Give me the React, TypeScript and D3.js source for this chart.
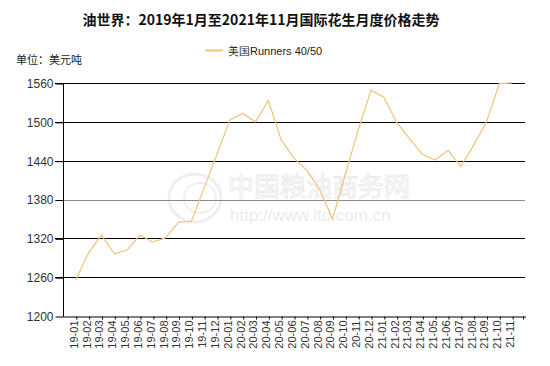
import { useEffect, useRef } from 'react';
import * as d3 from 'd3';

const months = [
  '19-01', '19-02', '19-03', '19-04', '19-05', '19-06', '19-07', '19-08', '19-09', '19-10', '19-11', '19-12',
  '20-01', '20-02', '20-03', '20-04', '20-05', '20-06', '20-07', '20-08', '20-09', '20-10', '20-11', '20-12',
  '21-01', '21-02', '21-03', '21-04', '21-05', '21-06', '21-07', '21-08', '21-09', '21-10', '21-11',
];
const prices = [
  1256, 1298, 1325, 1296, 1302, 1325, 1314, 1321, 1345, 1346, 1398, 1450,
  1503, 1513, 1500, 1533, 1472, 1444, 1425, 1395, 1350, 1419, 1487, 1549,
  1538, 1499, 1474, 1450, 1441, 1456, 1431, 1464, 1500, 1559, 1560,
];
const yTicks = [1200, 1260, 1320, 1380, 1440, 1500, 1560];
const seriesName = '美国Runners 40/50';
const title = '油世界：2019年1月至2021年11月国际花生月度价格走势';
const unitLabel = '单位：美元吨';

export default function App() {
  const svgRef = useRef(null);

  useEffect(() => {
    const svg = d3.select(svgRef.current);
    const width = 550;
    const height = 366;
    const margin = { top: 83, right: 25, bottom: 50, left: 63 };
    const lineColor = '#efc57a';
    const font = '"Liberation Sans", Arial, sans-serif';

    svg.attr('width', width).attr('height', height).attr('viewBox', `0 0 ${width} ${height}`);
    svg.selectAll('*').remove();

    const x = d3
      .scalePoint()
      .domain(months)
      .range([margin.left, width - margin.right])
      .padding(1);
    const y = d3
      .scaleLinear()
      .domain([1200, 1560])
      .range([height - margin.bottom, margin.top]);

    // watermark
    const wm = svg.append('g').attr('fill', 'none').attr('stroke', '#efefef');
    wm.append('ellipse').attr('cx', 195).attr('cy', 198).attr('rx', 26).attr('ry', 24).attr('stroke-width', 3);
    wm.append('ellipse').attr('cx', 200).attr('cy', 198).attr('rx', 16).attr('ry', 15).attr('stroke-width', 2);
    svg
      .append('text')
      .attr('x', 228)
      .attr('y', 196)
      .attr('font-family', '"Noto Sans CJK SC", sans-serif')
      .attr('font-size', 26)
      .attr('fill', 'none')
      .attr('stroke', '#e8e8e8')
      .attr('stroke-width', 0.8)
      .text('中国粮油商务网');
    svg
      .append('text')
      .attr('x', 230)
      .attr('y', 221)
      .attr('font-family', font)
      .attr('font-size', 17)
      .attr('fill', '#ececec')
      .text('http://www.lto.com.cn');

    // grid
    svg
      .append('g')
      .selectAll('line')
      .data(yTicks.slice(1))
      .join('line')
      .attr('x1', margin.left - 8)
      .attr('x2', width - margin.right)
      .attr('y1', (d) => Math.round(y(d)) + 0.5)
      .attr('y2', (d) => Math.round(y(d)) + 0.5)
      .attr('stroke', (d) => (d === 1380 ? '#8a8a8a' : '#000'));

    // y axis
    const yAxis = svg
      .append('g')
      .attr('transform', `translate(${margin.left + 0.5},0.5)`)
      .call(d3.axisLeft(y).tickValues(yTicks).tickFormat(d3.format('d')).tickSize(8).tickPadding(2));
    yAxis.select('.domain').remove();
    yAxis.selectAll('.tick line').attr('stroke', '#000');
    yAxis.selectAll('.tick text').attr('font-family', font).attr('font-size', 12).attr('fill', '#333');
    svg
      .append('line')
      .attr('x1', margin.left + 0.5)
      .attr('x2', margin.left + 0.5)
      .attr('y1', margin.top)
      .attr('y2', height - margin.bottom + 1)
      .attr('stroke', '#000');

    // x axis
    const xAxis = svg
      .append('g')
      .attr('transform', `translate(0.5,${Math.round(y(1200)) + 0.5})`)
      .call(d3.axisBottom(x).tickSize(3).tickSizeOuter(0));
    xAxis.select('.domain').attr('stroke', '#000');
    xAxis.selectAll('.tick line').attr('stroke', '#000');
    xAxis
      .selectAll('.tick text')
      .attr('font-family', font)
      .attr('font-size', 11)
      .attr('fill', '#333')
      .attr('text-anchor', 'end')
      .attr('transform', 'rotate(-90)')
      .attr('x', -4)
      .attr('y', -3)
      .attr('dy', '0.35em');
    xAxis
      .append('line')
      .attr('x1', width - margin.right - 2)
      .attr('x2', width - margin.right - 2)
      .attr('y1', 0)
      .attr('y2', 3)
      .attr('stroke', '#000');

    // series
    const line = d3
      .line()
      .x((d, i) => x(months[i]))
      .y((d) => y(d));
    svg
      .append('path')
      .datum(prices)
      .attr('fill', 'none')
      .attr('stroke', lineColor)
      .attr('stroke-width', 1.2)
      .attr('d', line);

    // title, unit, legend
    svg
      .append('text')
      .attr('x', 261)
      .attr('y', 25)
      .attr('text-anchor', 'middle')
      .attr('font-family', '"Noto Sans CJK SC", sans-serif')
      .attr('font-weight', 'bold')
      .attr('font-size', 14)
      .attr('fill', '#111')
      .text(title);
    svg
      .append('text')
      .attr('x', 16)
      .attr('y', 64)
      .attr('font-family', '"Noto Sans CJK SC", sans-serif')
      .attr('font-size', 11)
      .attr('fill', '#222')
      .text(unitLabel);
    svg
      .append('line')
      .attr('x1', 205)
      .attr('x2', 223)
      .attr('y1', 50.5)
      .attr('y2', 50.5)
      .attr('stroke', lineColor)
      .attr('stroke-width', 2);
    svg
      .append('text')
      .attr('x', 228)
      .attr('y', 55)
      .attr('font-family', font)
      .attr('font-size', 11)
      .attr('fill', '#222')
      .text(seriesName);
  }, []);

  return <svg ref={svgRef} style={{ position: 'absolute', left: 0, top: 0 }}></svg>;
}
